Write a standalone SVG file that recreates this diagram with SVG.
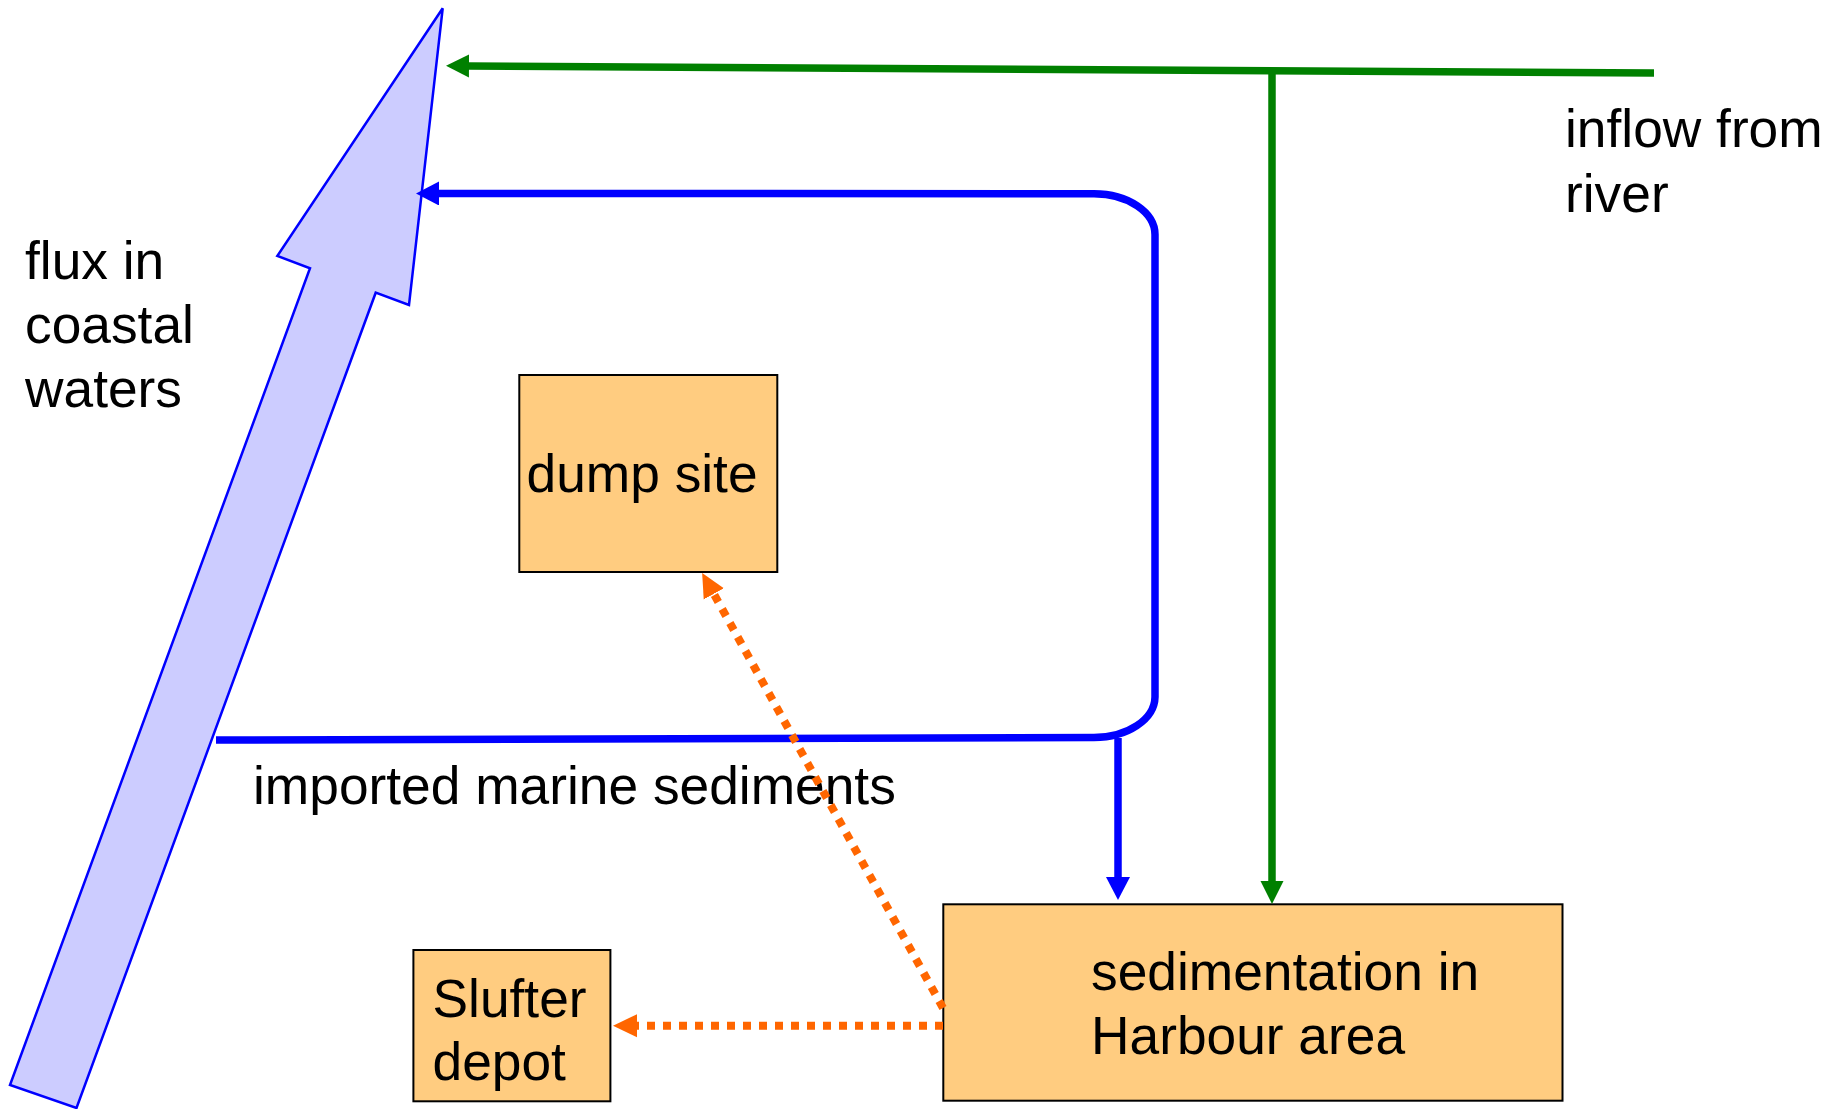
<svg xmlns="http://www.w3.org/2000/svg" width="1839" height="1109" viewBox="0 0 1839 1109">
<style>
text{font-family:"Liberation Sans",Arial,sans-serif;font-size:53.3px;fill:#000}
.box{fill:#FFCC80;stroke:#000;stroke-width:2}
.blue{fill:none;stroke:#0000FF;stroke-width:7.5}
.green{fill:none;stroke:#008000;stroke-width:7.5}
.orange{fill:none;stroke:#FF6600;stroke-width:8;stroke-dasharray:8 8}
</style>
<defs>
<marker id="ahBlue" viewBox="0 -12 24 24" markerWidth="24" markerHeight="24" refX="1" refY="0" markerUnits="userSpaceOnUse" orient="auto"><path d="M0,-12 L23,0 L0,12 z" fill="#0000FF"/></marker>
<marker id="ahGreen" viewBox="0 -12 24 24" markerWidth="24" markerHeight="24" refX="1" refY="0" markerUnits="userSpaceOnUse" orient="auto"><path d="M0,-11.5 L23,0 L0,11.5 z" fill="#008000"/></marker>
<marker id="ahOrange" viewBox="0 -12 24 24" markerWidth="24" markerHeight="24" refX="1" refY="0" markerUnits="userSpaceOnUse" orient="auto"><path d="M0,-11.5 L24,0 L0,11.5 z" fill="#FF6600"/></marker>
</defs>
<rect width="1839" height="1109" fill="#fff"/>
<g id="coastal-flux">
<polygon points="442.7,8.3 277.3,256 310,268.3 10,1085 76.5,1108 375.7,292.7 409,305" fill="#CCCCFF" stroke="#0000FF" stroke-width="2.5" stroke-linejoin="miter"/>
<text x="25" y="279">flux in</text>
<text x="25" y="343">coastal</text>
<text x="25" y="407">waters</text>
</g>
<g id="river-label">
<text x="1565" y="147">inflow from</text>
<text x="1565" y="211.5">river</text>
</g>
<g id="marine-label">
<text x="253" y="804">imported marine sediments</text>
</g>
<g id="dump-site">
<rect class="box" x="519.3" y="375" width="258" height="197"/>
<text x="526.5" y="491.7">dump site</text>
</g>
<g id="slufter-depot">
<rect class="box" x="413.4" y="950" width="197" height="151.3"/>
<text x="432.5" y="1016.7">Slufter</text>
<text x="432.5" y="1080">depot</text>
</g>
<g id="harbour">
<rect class="box" x="943.3" y="904.3" width="619.2" height="196.4"/>
<text x="1091" y="990">sedimentation in</text>
<text x="1091" y="1054">Harbour area</text>
</g>
<g id="connectors">
<path class="green" d="M1654,73 L468,66" marker-end="url(#ahGreen)"/>
<path class="green" d="M1272,71 L1272,882" marker-end="url(#ahGreen)"/>
<path class="blue" d="M216,740 L1094,737.5 A61,41 0 0 0 1155,697 L1155,235 A61,41 0 0 0 1094,193.7 L438,193.5" marker-end="url(#ahBlue)"/>
<path class="blue" d="M1118,738 L1118,878" marker-end="url(#ahBlue)"/>
<path class="orange" d="M943,1025.7 L636,1025.7" marker-end="url(#ahOrange)"/>
<path class="orange" d="M943,1008 L713.3,593" marker-end="url(#ahOrange)"/>
</g>
</svg>
